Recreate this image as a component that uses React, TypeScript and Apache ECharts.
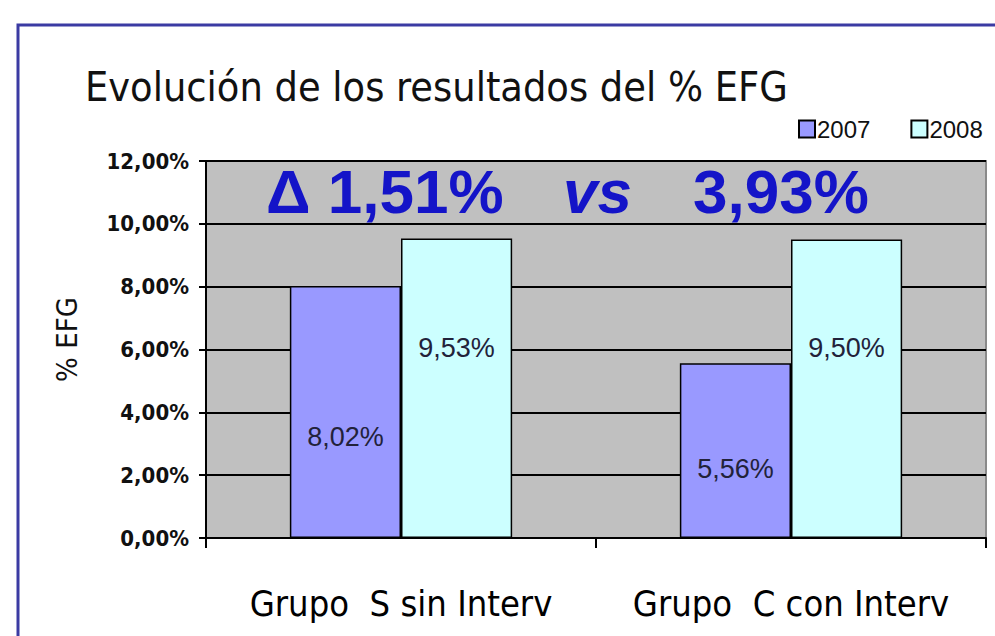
import React, { useEffect, useRef } from "react";
import * as echarts from "echarts";

const categories = ["Grupo  S sin Interv", "Grupo  C con Interv"];
const seriesNames = ["2007", "2008"];
const values2007 = [8.02, 5.56];
const values2008 = [9.53, 9.5];
const yTicks = { min: 0, max: 12, interval: 2 };
const titleText = "Evolución de los resultados del % EFG";
const deltaTexts = ["Δ 1,51%", "vs", "3,93%"];
const yAxisName = "% EFG";

// label vertical offsets (px) relative to bar centre
const offsets2007 = [25, 18];
const offsets2008 = [-40, -41];

const fmt = (v: number) => v.toFixed(2).replace(".", ",") + "%";

export default function App() {
  const ref = useRef<HTMLDivElement>(null);
  useEffect(() => {
    if (!ref.current) return;
    const chart = echarts.init(ref.current, null, { renderer: "svg" });
    const labelBase = {
      show: true,
      position: "inside",
      color: "#22223a",
      fontSize: 27,
      fontFamily: "Liberation Sans, Arial, sans-serif",
      formatter: (p: any) => fmt(p.value),
    };
    chart.setOption({
      animation: false,
      backgroundColor: "#ffffff",
      title: {
        text: titleText,
        left: 80,
        top: 61,
        textStyle: {
          fontSize: 41,
          fontWeight: "normal",
          color: "#111",
          fontFamily: "DejaVu Sans Condensed, sans-serif",
        },
      },
      legend: {
        data: seriesNames,
        left: 793,
        top: 112,
        icon: "rect",
        itemWidth: 16,
        itemHeight: 17,
        itemGap: 40,
        textStyle: { fontSize: 24, color: "#111", padding: [0, 0, 0, -3], fontFamily: "Liberation Sans, Arial, sans-serif" },
      },
      grid: {
        left: 206,
        right: 9,
        top: 161,
        bottom: 98,
        show: true,
        backgroundColor: "#C0C0C0",
        borderColor: "#8a8a8a",
        borderWidth: 2,
      },
      xAxis: {
        type: "category",
        data: categories,
        axisLine: { lineStyle: { color: "#000", width: 2 } },
        axisTick: { show: true, length: 10, lineStyle: { color: "#000", width: 2 } },
        axisLabel: {
          interval: 0,
          hideOverlap: false,
          fontSize: 36,
          margin: 47,
          color: "#000",
          fontWeight: "normal",
          fontFamily: "DejaVu Sans Condensed, sans-serif",
        },
      },
      yAxis: {
        type: "value",
        min: yTicks.min,
        max: yTicks.max,
        interval: yTicks.interval,
        name: yAxisName,
        nameLocation: "middle",
        nameGap: 125,
        nameRotate: 90,
        nameTextStyle: { fontSize: 29, color: "#111", fontFamily: "DejaVu Sans Condensed, sans-serif", padding: [0, 0, 0, 20] },
        axisLine: { show: true, lineStyle: { color: "#000", width: 2 } },
        axisTick: { show: true, length: 7, lineStyle: { color: "#000", width: 2 } },
        splitLine: { lineStyle: { color: "#000", width: 2 } },
        axisLabel: {
          formatter: (v: number) => fmt(v),
          fontSize: 22,
          fontWeight: "bold",
          margin: 17,
          color: "#111",
          fontFamily: "DejaVu Sans Condensed, Liberation Sans Narrow, sans-serif",
        },
      },
      series: [
        {
          name: seriesNames[0],
          type: "bar",
          barWidth: "28.5%",
          barGap: "0%",
          itemStyle: { color: "#9999FF", borderColor: "#000", borderWidth: 1.5 },
          data: values2007.map((v, i) => ({ value: v, label: { ...labelBase, offset: [0, offsets2007[i]] } })),
        },
        {
          name: seriesNames[1],
          type: "bar",
          barWidth: "28.5%",
          barGap: "0%",
          itemStyle: { color: "#CCFFFF", borderColor: "#000", borderWidth: 1.5 },
          data: values2008.map((v, i) => ({ value: v, label: { ...labelBase, offset: [0, offsets2008[i]] } })),
        },
      ],
      graphic: [
        {
          type: "rect",
          shape: { x: 18, y: 25, width: 1100, height: 800 },
          style: { fill: "none", stroke: "#3b3ba3", lineWidth: 3 },
          z: 100,
        },
        {
          type: "text",
          x: 266,
          y: 160,
          style: { text: deltaTexts[0], fill: "#1414C8", font: "bold 62px Liberation Sans, Arial, sans-serif" },
          z: 100,
        },
        {
          type: "text",
          x: 563,
          y: 160,
          style: { text: deltaTexts[1], fill: "#1414C8", font: "italic bold 62px Liberation Sans, Arial, sans-serif" },
          z: 100,
        },
        {
          type: "text",
          x: 693,
          y: 160,
          style: { text: deltaTexts[2], fill: "#1414C8", font: "bold 62px Liberation Sans, Arial, sans-serif" },
          z: 100,
        },
      ],
    });
    return () => chart.dispose();
  }, []);
  return <div ref={ref} style={{ position: "fixed", left: 0, top: 0, width: 995, height: 636 }} />;
}
